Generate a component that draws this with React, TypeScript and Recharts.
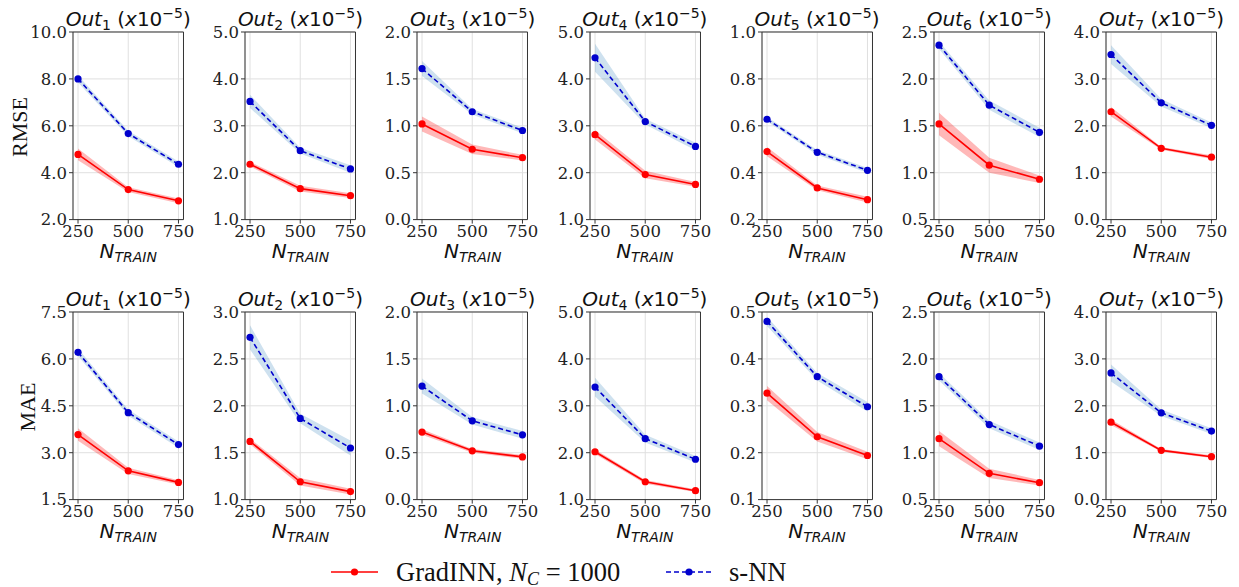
import { Area, CartesianGrid, ComposedChart, Line, ReferenceLine, XAxis, YAxis } from 'recharts'

// training-set sizes on the x axis
const nTrain = [250, 500, 750]
const outIdx = ['1', '2', '3', '4', '5', '6', '7']

// RMSE (x1e-5), mean and half-width of the shaded band, per output
const rmseGrad = [
  [4.78, 3.28, 2.8], [2.18, 1.66, 1.51], [1.02, 0.75, 0.66], [2.81, 1.96, 1.75],
  [0.49, 0.335, 0.285], [1.52, 1.08, 0.93], [2.3, 1.52, 1.33],
]
const rmseGradBand = [
  [0.25, 0.1, 0.1], [0.05, 0.06, 0.05], [0.08, 0.05, 0.03], [0.1, 0.08, 0.05],
  [0.02, 0.01, 0.012], [0.12, 0.08, 0.04], [0.1, 0.03, 0.04],
]
const rmseSnn = [
  [8.0, 5.67, 4.36], [3.52, 2.47, 2.08], [1.61, 1.15, 0.95], [4.45, 3.09, 2.56],
  [0.628, 0.487, 0.41], [2.36, 1.72, 1.43], [3.52, 2.49, 2.01],
]
const rmseSnnBand = [
  [0.15, 0.12, 0.12], [0.14, 0.06, 0.08], [0.08, 0.03, 0.03], [0.3, 0.06, 0.08],
  [0.01, 0.01, 0.01], [0.04, 0.05, 0.05], [0.2, 0.08, 0.06],
]
const rmseTicks = [
  [2, 4, 6, 8, 10], [1, 2, 3, 4, 5], [0, 0.5, 1, 1.5, 2], [1, 2, 3, 4, 5],
  [0.2, 0.4, 0.6, 0.8, 1.0], [0.5, 1, 1.5, 2, 2.5], [0, 1, 2, 3, 4],
]

// MAE (x1e-5)
const maeGrad = [
  [3.58, 2.42, 2.05], [1.62, 1.19, 1.085], [0.72, 0.52, 0.455], [2.02, 1.38, 1.19],
  [0.327, 0.234, 0.194], [1.15, 0.78, 0.68], [1.65, 1.05, 0.915],
]
const maeGradBand = [
  [0.2, 0.1, 0.07], [0.03, 0.04, 0.03], [0.03, 0.02, 0.02], [0.05, 0.04, 0.03],
  [0.015, 0.01, 0.008], [0.08, 0.05, 0.03], [0.06, 0.03, 0.03],
]
const maeSnn = [
  [6.21, 4.28, 3.26], [2.73, 1.865, 1.55], [1.21, 0.84, 0.69], [3.4, 2.3, 1.86],
  [0.48, 0.362, 0.298], [1.81, 1.3, 1.07], [2.7, 1.85, 1.46],
]
const maeSnnBand = [
  [0.12, 0.1, 0.1], [0.13, 0.05, 0.08], [0.08, 0.04, 0.04], [0.2, 0.08, 0.07],
  [0.01, 0.008, 0.01], [0.04, 0.04, 0.04], [0.18, 0.07, 0.06],
]
const maeTicks = [
  [1.5, 3, 4.5, 6, 7.5], [1, 1.5, 2, 2.5, 3], [0, 0.5, 1, 1.5, 2], [1, 2, 3, 4, 5],
  [0.1, 0.2, 0.3, 0.4, 0.5], [0.5, 1, 1.5, 2, 2.5], [0, 1, 2, 3, 4],
]

const RED = '#ff0000'
const BLUE = '#0000cd'
const SPINE = '#333'
const sans = '"DejaVu Sans", sans-serif'
const serif = '"DejaVu Serif", serif'
const times = '"Liberation Serif", serif'

const PLOT_W = 110.5
const PLOT_H = 187.6
const AXIS_W = 50
const AXIS_H = 26
const M_TOP = 12
const M_RIGHT = 16
const DOT_R = 3.6
const colX = (k: number) => 73 + 172.2 * k
const rowY = [31.7, 311.7]

type PanelProps = {
  left: number
  top: number
  ticks: number[]
  grad: number[]
  gradBand: number[]
  snn: number[]
  snnBand: number[]
}

function Panel({ left, top, ticks, grad, gradBand, snn, snnBand }: PanelProps) {
  const data = nTrain.map((n, i) => ({
    n,
    grad: grad[i],
    snn: snn[i],
    gradRange: [grad[i] - gradBand[i], grad[i] + gradBand[i]],
    snnRange: [snn[i] - snnBand[i], snn[i] + snnBand[i]],
  }))
  const lo = ticks[0]
  const hi = ticks[ticks.length - 1]
  const tickFont = { fill: '#222', fontSize: 16.5, fontFamily: serif }
  return (
    <div style={{ position: 'absolute', left: left - AXIS_W, top: top - M_TOP }}>
      <ComposedChart
        width={AXIS_W + PLOT_W + M_RIGHT}
        height={M_TOP + PLOT_H + AXIS_H}
        data={data}
        margin={{ top: M_TOP, right: M_RIGHT, bottom: 0, left: 0 }}
      >
        <CartesianGrid stroke="#e0e0e0" strokeWidth={1} />
        <XAxis
          dataKey="n"
          type="number"
          domain={[225, 775]}
          ticks={nTrain}
          interval={0}
          height={AXIS_H}
          axisLine={{ stroke: SPINE }}
          tickLine={{ stroke: SPINE }}
          tickSize={4}
          tickMargin={2}
          tick={tickFont}
        />
        <YAxis
          type="number"
          domain={[lo, hi]}
          ticks={ticks}
          interval={0}
          width={AXIS_W}
          axisLine={{ stroke: SPINE }}
          tickLine={{ stroke: SPINE }}
          tickSize={4}
          tickMargin={2}
          tick={tickFont}
          tickFormatter={(v: number) => v.toFixed(1)}
        />
        <Area
          dataKey="snnRange"
          type="linear"
          stroke="none"
          fill="#1f77b4"
          fillOpacity={0.22}
          dot={false}
          activeDot={false}
          isAnimationActive={false}
        />
        <Area
          dataKey="gradRange"
          type="linear"
          stroke="none"
          fill={RED}
          fillOpacity={0.28}
          dot={false}
          activeDot={false}
          isAnimationActive={false}
        />
        <ReferenceLine y={hi} stroke={SPINE} strokeWidth={1} />
        <ReferenceLine x={775} stroke={SPINE} strokeWidth={1} />
        <Line
          dataKey="grad"
          type="linear"
          stroke={RED}
          strokeWidth={1.6}
          dot={{ r: DOT_R, fill: RED, stroke: RED, strokeWidth: 0 }}
          activeDot={false}
          isAnimationActive={false}
        />
        <Line
          dataKey="snn"
          type="linear"
          stroke={BLUE}
          strokeWidth={1.6}
          strokeDasharray="5 3"
          dot={{ r: DOT_R, fill: BLUE, stroke: BLUE, strokeWidth: 0, strokeDasharray: '0' }}
          activeDot={false}
          isAnimationActive={false}
        />
      </ComposedChart>
    </div>
  )
}

function Title({ cx, baseline, idx }: { cx: number; baseline: number; idx: string }) {
  return (
    <div
      style={{
        position: 'absolute',
        left: cx - 100,
        width: 200,
        top: baseline - 17,
        textAlign: 'center',
        fontFamily: sans,
        fontSize: 20,
        lineHeight: '20px',
        color: '#111',
        whiteSpace: 'nowrap',
      }}
    >
      <i>Out</i>
      <span style={{ fontSize: 14, position: 'relative', top: 4 }}>{idx}</span> (<i>x</i>10
      <span style={{ fontSize: 14, position: 'relative', top: -8 }}>−5</span>)
    </div>
  )
}

function XLabel({ cx, baseline }: { cx: number; baseline: number }) {
  return (
    <div
      style={{
        position: 'absolute',
        left: cx - 60,
        width: 120,
        top: baseline - 16.9,
        textAlign: 'center',
        fontFamily: sans,
        fontStyle: 'italic',
        fontSize: 20,
        lineHeight: '20px',
        color: '#111',
        whiteSpace: 'nowrap',
      }}
    >
      N<span style={{ fontSize: 14, position: 'relative', top: 4 }}>TRAIN</span>
    </div>
  )
}

function YLabel({ cx, cy, text }: { cx: number; cy: number; text: string }) {
  return (
    <div
      style={{
        position: 'absolute',
        left: cx - 50,
        top: cy - 12,
        width: 100,
        height: 24,
        lineHeight: '24px',
        textAlign: 'center',
        fontFamily: times,
        fontSize: 22,
        color: '#111',
        transform: 'rotate(-90deg)',
      }}
    >
      {text}
    </div>
  )
}

export default function App() {
  const rows = [
    { grad: rmseGrad, gradBand: rmseGradBand, snn: rmseSnn, snnBand: rmseSnnBand, ticks: rmseTicks },
    { grad: maeGrad, gradBand: maeGradBand, snn: maeSnn, snnBand: maeSnnBand, ticks: maeTicks },
  ]
  const legendText = {
    position: 'absolute' as const,
    top: 558.6,
    height: 34,
    fontFamily: times,
    fontSize: 26.5,
    lineHeight: '26.5px',
    color: '#111',
    whiteSpace: 'nowrap' as const,
  }
  return (
    <div style={{ position: 'absolute', left: 0, top: 0, width: 1239, height: 587, background: '#fff', overflow: 'hidden' }}>
      {rows.map((r, ri) =>
        outIdx.map((idx, k) => {
          const cx = colX(k) + PLOT_W / 2
          return (
            <div key={`${ri}-${k}`}>
              <Panel
                left={colX(k)}
                top={rowY[ri]}
                ticks={r.ticks[k]}
                grad={r.grad[k]}
                gradBand={r.gradBand[k]}
                snn={r.snn[k]}
                snnBand={r.snnBand[k]}
              />
              <Title cx={cx} baseline={rowY[ri] - 5.5} idx={idx} />
              <XLabel cx={cx} baseline={rowY[ri] + 226} />
            </div>
          )
        })
      )}
      <YLabel cx={19.5} cy={127} text="RMSE" />
      <YLabel cx={27.5} cy={406.7} text="MAE" />

      {/* legend */}
      <svg style={{ position: 'absolute', left: 331, top: 566 }} width={48} height={12}>
        <line x1={0} x2={47} y1={6} y2={6} stroke={RED} strokeWidth={1.6} />
        <circle cx={23.5} cy={6} r={DOT_R} fill={RED} />
      </svg>
      <div style={{ ...legendText, left: 396 }}>
        GradINN, <i>N</i>
        <i style={{ fontSize: 18, verticalAlign: '-0.2em' }}>C</i> = 1000
      </div>
      <svg style={{ position: 'absolute', left: 666, top: 566 }} width={48} height={12}>
        <line x1={0} x2={46} y1={6} y2={6} stroke={BLUE} strokeWidth={1.6} strokeDasharray="5 3" />
        <circle cx={23} cy={6} r={DOT_R} fill={BLUE} />
      </svg>
      <div style={{ ...legendText, left: 729 }}>s-NN</div>
    </div>
  )
}
